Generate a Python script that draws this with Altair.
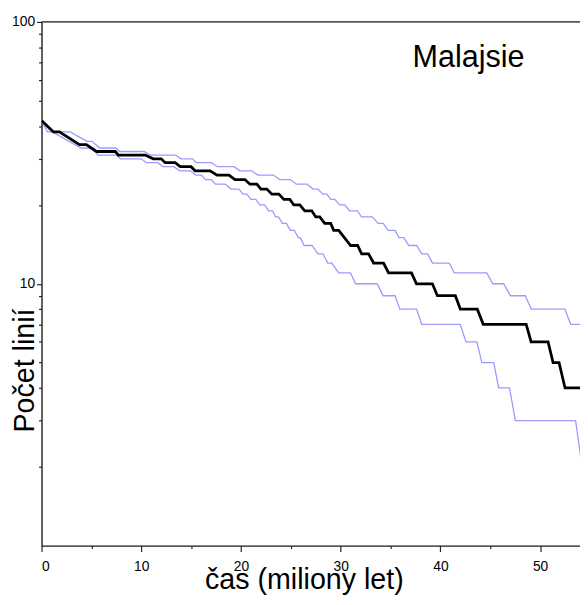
import altair as alt
import pandas as pd

# lineages-through-time: median and bounds (time in Myr, number of lineages)
median_t = [0, 1.2, 1.8, 3.8, 4.5, 5.5, 7.4, 7.7, 10.4, 11.2, 12.0, 12.4, 13.4, 13.9, 15.0,
            15.4, 16.9, 17.6, 18.8, 19.4, 20.4, 20.9, 21.6, 22.0, 22.6, 23.1, 23.8, 24.3,
            24.9, 25.3, 25.9, 26.4, 27.1, 27.5, 27.9, 28.4, 29.0, 29.3, 29.8, 31.0, 31.7,
            32.1, 32.8, 33.3, 34.3, 34.8, 37.1, 37.6, 39.2, 39.7, 41.5, 42.0, 43.7, 44.3,
            48.6, 49.1, 50.8, 51.3, 51.9, 52.5, 55.0]
median_v = [42, 38, 38, 34, 34, 32, 32, 31, 31, 30, 30, 29, 29, 28, 28,
            27, 27, 26, 26, 25, 25, 24, 24, 23, 23, 22, 22, 21,
            21, 20, 20, 19, 19, 18, 18, 17, 17, 16, 16, 14, 14,
            13, 13, 12, 12, 11, 11, 10, 10, 9, 9, 8, 8, 7,
            7, 6, 6, 5, 5, 4, 4]

upper_t = [0, 0.99, 2.87, 4.55, 5.05, 5.84, 7.43, 7.82, 10.30, 10.89, 13.47, 13.96, 15.15,
           15.54, 17.03, 17.62, 19.31, 19.90, 21.09, 21.68, 23.27, 23.86, 24.95, 25.54,
           26.63, 27.23, 27.72, 28.22, 28.61, 29.01, 29.41, 29.90, 30.40, 30.89, 31.68,
           32.08, 33.17, 33.76, 34.26, 34.75, 35.45, 35.84, 36.34, 36.83, 37.62, 38.12,
           38.71, 39.21, 40.89, 41.39, 44.65, 45.25, 46.34, 47.03, 48.51, 49.11, 52.48,
           53.07, 55.0]
upper_v = [42, 38, 38, 35, 35, 33, 33, 32, 32, 31, 31, 30, 30,
           29, 29, 28, 28, 27, 27, 26, 26, 25, 25, 24,
           24, 23, 23, 22, 22, 21, 21, 20, 20, 19, 19,
           18, 18, 17, 17, 16, 16, 15, 15, 14, 14, 13,
           13, 12, 12, 11, 11, 10, 10, 9, 9, 8, 8,
           7, 7]

lower_t = [0, 0.59, 1.09, 3.96, 5.25, 5.64, 7.52, 7.92, 10.0, 10.5, 11.68, 12.18, 13.27,
           13.86, 14.95, 15.45, 16.04, 16.44, 17.03, 17.43, 18.42, 19.01, 19.80, 20.20,
           20.59, 20.99, 21.49, 21.88, 22.38, 22.77, 23.17, 23.47, 23.76, 24.16, 24.55,
           24.95, 25.35, 25.74, 25.94, 26.34, 27.13, 27.72, 28.22, 28.71, 29.11, 29.80,
           30.99, 31.49, 33.66, 34.26, 35.45, 35.94, 37.62, 38.12, 41.98, 42.57, 43.66,
           44.16, 45.35, 45.84, 46.93, 47.52, 53.56, 54.2, 55.0]
lower_v = [42, 38, 38, 33, 33, 31, 31, 30, 30, 29, 29, 28, 28,
           27, 27, 26, 26, 25, 25, 24, 24, 23, 23, 22,
           22, 21, 21, 20, 20, 19, 19, 18, 18, 17, 17,
           16, 16, 15, 15, 14, 14, 13, 13, 12, 12, 11,
           11, 10, 10, 9, 9, 8, 8, 7, 7, 6, 6,
           5, 5, 4, 4, 3, 3, 2, 2]

x_ticks = [0, 5, 10, 15, 20, 25, 30, 35, 40, 45, 50]
y_ticks = [2, 3, 4, 5, 6, 7, 8, 9, 10, 20, 30, 40, 50, 60, 70, 80, 90, 100]

label_text = ["Malajsie"]
label_t = [37.2]
label_v = [67]

FONT = "Liberation Sans, Arial, sans-serif"
W, H = 546, 531
BLUE = "#9a9aff"

rows = []
for name, ts, vs in [("upper", upper_t, upper_v), ("lower", lower_t, lower_v),
                     ("median", median_t, median_v)]:
    for i, (t, v) in enumerate(zip(ts, vs)):
        rows.append({"series": name, "t": t, "v": v, "i": i})
df = pd.DataFrame(rows)
lab = pd.DataFrame({"text": label_text, "t": label_t, "v": label_v})

xscale = alt.Scale(domain=[0, 54], nice=False, zero=False)
yscale = alt.Scale(type="log", domain=[1, 100], nice=False)

xaxis = alt.Axis(
    values=x_ticks, grid=False,
    labelExpr="datum.value % 10 == 0 ? datum.label : ''",
    tickSize={"condition": {"test": "datum.value % 10 == 0", "value": 6}, "value": 3},
    labelFont=FONT, labelFontSize=14, labelPadding=8, labelColor="#000",
    title="čas (miliony let)", titleFont=FONT, titleFontSize=29, titleFontWeight="normal",
    titleColor="#000", titleX=266, titleY=44, titleBaseline="alphabetic", titleAlign="center",
    domainColor="#222", domainWidth=1.4, tickColor="#222", tickWidth=1.2,
)
yaxis = alt.Axis(
    values=y_ticks, grid=False,
    labelExpr="datum.value == 10 || datum.value == 100 ? datum.label : ''",
    tickSize={"condition": {"test": "datum.value == 10 || datum.value == 100", "value": 5}, "value": 3},
    labelFont=FONT, labelFontSize=14, labelPadding=2, labelColor="#000",
    title="Počet linií", titleFont=FONT, titleFontSize=29, titleFontWeight="normal",
    titleColor="#000", titleX=-8, titleY=353, titleBaseline="alphabetic", titleAlign="center",
    titleAngle=270,
    domainColor="#222", domainWidth=1.4, tickColor="#222", tickWidth=1.2,
)

base = alt.Chart(df)
bounds = base.transform_filter("datum.series != 'median'").mark_line(
    clip=True, color=BLUE, strokeWidth=1.3).encode(
    x=alt.X("t:Q", scale=xscale, axis=xaxis),
    y=alt.Y("v:Q", scale=yscale, axis=yaxis),
    detail="series:N",
    order=alt.Order("i:Q"),
)
median = base.transform_filter("datum.series == 'median'").mark_line(
    clip=True, color="#000000", strokeWidth=2.8).encode(
    x=alt.X("t:Q", scale=xscale),
    y=alt.Y("v:Q", scale=yscale),
    order=alt.Order("i:Q"),
)

text = alt.Chart(lab).mark_text(align="left", baseline="alphabetic", font=FONT,
                                fontSize=31, color="#000").encode(
    x=alt.X("t:Q", scale=xscale), y=alt.Y("v:Q", scale=yscale), text="text:N")

top = alt.Chart(lab).mark_rule(color="#222", strokeWidth=1.4).encode(
    x=alt.value(0), x2=alt.value(W), y=alt.value(0))

chart = alt.layer(bounds, median, text, top).properties(
    width=W, height=H,
    autosize=alt.AutoSizeParams(type="none"),
    padding={"left": 34, "top": 10, "right": 0, "bottom": 48},
).configure_view(stroke=None).configure(background="white")

chart.save("out.html", embed_options={"renderer": "svg", "actions": False})
